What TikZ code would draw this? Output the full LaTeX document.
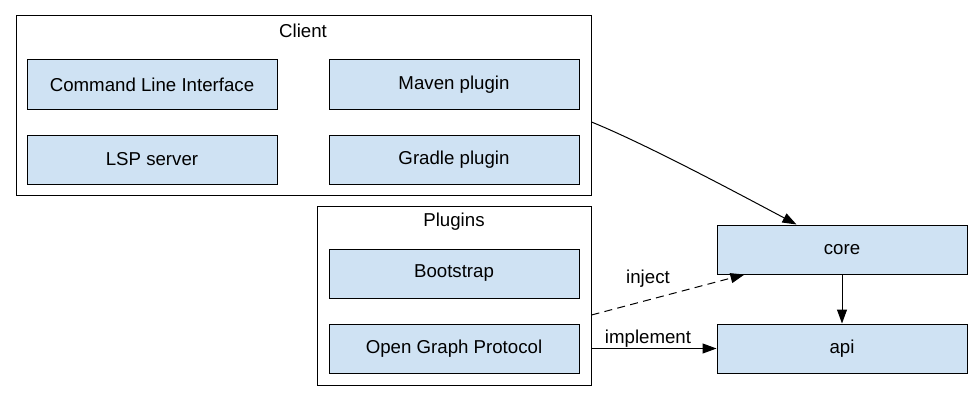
\documentclass[tikz,border=0pt]{standalone}
\usepackage{fontspec}
\setmainfont{Liberation Sans}
\usetikzlibrary{arrows.meta,calc}
\definecolor{boxfill}{HTML}{CFE2F3}
\tikzset{
  box/.style={draw=black, fill=boxfill, line width=0.75pt, minimum width=187.5pt, minimum height=36.75pt, inner sep=0pt, font=\fontsize{14}{16}\selectfont},
  cluster/.style={draw=black, line width=0.75pt, inner sep=0pt},
  title/.style={font=\fontsize{14}{16}\selectfont, inner sep=0pt},
  edge/.style={line width=0.75pt, -{Triangle[length=10.5pt,width=7.5pt]}},
  elabel/.style={font=\fontsize{14}{16}\selectfont, inner sep=0pt}
}
\begin{document}
\begin{tikzpicture}[x=0.75pt,y=-0.75pt]
\useasboundingbox (0,0) rectangle (974,403);
% clusters
\node[cluster, minimum width=431.25pt, minimum height=134.25pt] (client) at (303.5,105.5) {};
\node[title] (clienttitle) at (303,31) {Client};
\node[cluster, minimum width=205.5pt, minimum height=134.25pt] (plugins) at (454,295.5) {};
\node[title] (pluginstitle) at (454,222) {Plugins};
% nodes
\node[box] (cli) at (152,84.5) {Command Line Interface};
\node[box] (maven) at (454,84.5) {Maven plugin};
\node[box] (lsp) at (152,159.5) {LSP server};
\node[box] (gradle) at (454,159.5) {Gradle plugin};
\node[box] (bootstrap) at (454,273.5) {Bootstrap};
\node[box] (ogp) at (454,348.5) {Open Graph Protocol};
\node[box] (core) at (842,249.5) {core};
\node[box] (api) at (842,348.5) {api};
% edges
\coordinate (cstart) at ($(client.east)+(0,16.5)$);
\coordinate (cend) at ($(core.north west)+(80,0)$);
\draw[edge] (cstart) .. controls ($(cstart)+(54,22)$) and ($(cend)+(-62,-33)$) .. (cend);
\coordinate (istart) at ($(plugins.east)+(0,19.5)$);
\coordinate (iend) at ($(core.south west)+(28,0)$);
\draw[edge, dashed, dash pattern=on 6pt off 4pt] (istart) -- (iend);
\node[elabel] (injectlabel) at (648,279) {inject};
\draw[edge] (plugins.east |- api) -- (api.west);
\node[elabel] (implementlabel) at (648,339) {implement};
\draw[edge] (core) -- (api);
\end{tikzpicture}
\end{document}
